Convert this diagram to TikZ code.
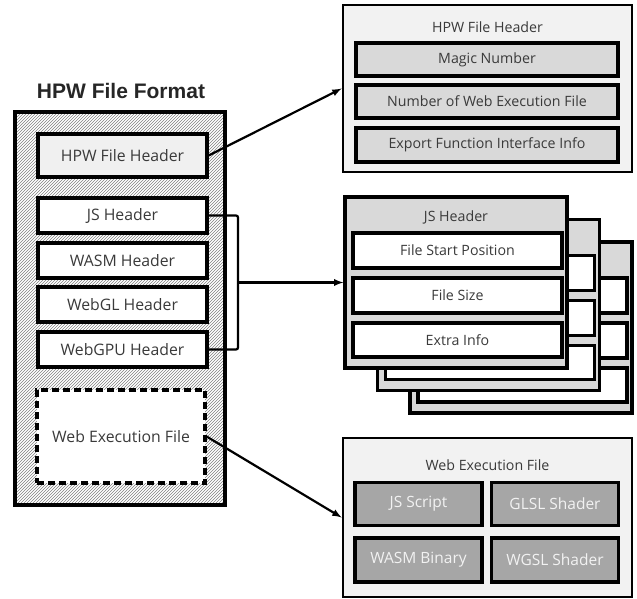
\documentclass[tikz,border=0pt]{standalone}
\usepackage{fontspec}
\setmainfont{Open Sans}
\newfontfamily\titlefont{Liberation Sans}
\usepackage{tikz}
\usetikzlibrary{arrows, positioning, patterns}
\definecolor{txtgray}{HTML}{3A3A3A}
\definecolor{panel}{HTML}{F2F2F2}
\definecolor{midgray}{HTML}{D9D9D9}
\definecolor{darkbox}{HTML}{A6A6A6}

\begin{document}
\begin{tikzpicture}[x=1pt, y=-1pt, >=latex,
	every node/.style={font=\fontsize{14.2}{16}\selectfont, text=txtgray, inner sep=0pt},
	fld/.style={draw, line width=3.2pt, fill=white, minimum width=169pt, minimum height=35pt, font=\fontsize{15.8}{18}\selectfont},
	panelbox/.style={draw, line width=2.6pt, fill=panel, minimum width=289pt},
	item/.style={draw, line width=3.2pt, fill=midgray, minimum width=262pt, minimum height=33pt},
	exitem/.style={draw, line width=3.2pt, fill=darkbox, text=panel, minimum width=127pt, minimum height=43pt, font=\fontsize{15.5}{18}\selectfont},
	stackbox/.style={draw, line width=3.2pt, fill=midgray, minimum width=222pt, minimum height=171pt},
	stackfld/.style={draw, line width=3.2pt, fill=white, minimum width=209pt, minimum height=35pt},
	link/.style={->, line width=2.2pt}]
\useasboundingbox (0,0) rectangle (637,599);

% left column
\node (title) at (121,91) {\titlefont\bfseries\fontsize{21}{24}\selectfont\color{black!85} HPW File Format};
\node (fmt) [draw, line width=4.5pt, pattern=north east lines, pattern color=black!50,
	minimum width=210pt, minimum height=393pt] at (120,308.5) {};
\node (hdr) [fld, fill=black!6, minimum height=43pt] at (122.5,155.5) {HPW File Header};
\node (js) [fld] at (122.5,215.5) {JS Header};
\node (wasm) [fld] at (122.5,260.5) {WASM Header};
\node (webgl) [fld] at (122.5,304.5) {WebGL Header};
\node (webgpu) [fld] at (122.5,349.5) {WebGPU Header};
\node (wef) [fld, dash pattern=on 7pt off 4pt, minimum width=168pt, minimum height=93pt] at (121,436.5) {Web Execution File};

% HPW file header
\node (hpwbox) [panelbox, minimum height=167pt] at (487.5,88.5) {};
\node (hpwtitle) at (487.5,27) {HPW File Header};
\node (magic) [item] at (487,59.5) {Magic Number};
\node (count) [item] at (487,101.5) {Number of Web Execution File};
\node (export) [item, minimum height=34pt] at (487,145) {Export Function Interface Info};

% header stack
\foreach \dx/\dy [count=\i] in {65/45, 32.5/22.5}{
	\begin{scope}[shift={(\dx,\dy)}]
		\node (back\i) [stackbox] at (456,282.5) {};
		\node (back\i a) [stackfld] at (457.5,250.5) {};
		\node (back\i b) [stackfld] at (457.5,295.5) {};
		\node (back\i c) [stackfld, minimum height=34pt] at (457.5,340) {};
	\end{scope}
}
\node (jsf) [stackbox] at (456,282.5) {};
\node (jstitle) at (456,217) {JS Header};
\node (start) [stackfld] at (457.5,250.5) {File Start Position};
\node (size) [stackfld] at (457.5,295.5) {File Size};
\node (extra) [stackfld, minimum height=34pt] at (457.5,340) {Extra Info};

% web execution file
\node (wexbox) [panelbox, minimum height=159pt] at (487.5,517.5) {};
\node (wextitle) at (487.5,465) {Web Execution File};
\node (jsscript) [exitem] at (418.5,504) {JS Script};
\node (glsl) [exitem] at (555,504) {GLSL Shader};
\node (wasmbin) [exitem, minimum height=44pt] at (418.5,560) {WASM Binary};
\node (wgsl) [exitem, minimum height=44pt] at (555,560) {WGSL Shader};

\coordinate (brk) at (238,282.5);
\draw[line width=2.2pt, rounded corners=2pt] (js.east) -| (brk) |- (webgpu.east);
\draw[link] (brk) -- (jsf.west);
\draw[link] (hdr.east) -- (hpwbox.west);
\draw[link] (wef.east) -- (wexbox.west);
\end{tikzpicture}
\end{document}
